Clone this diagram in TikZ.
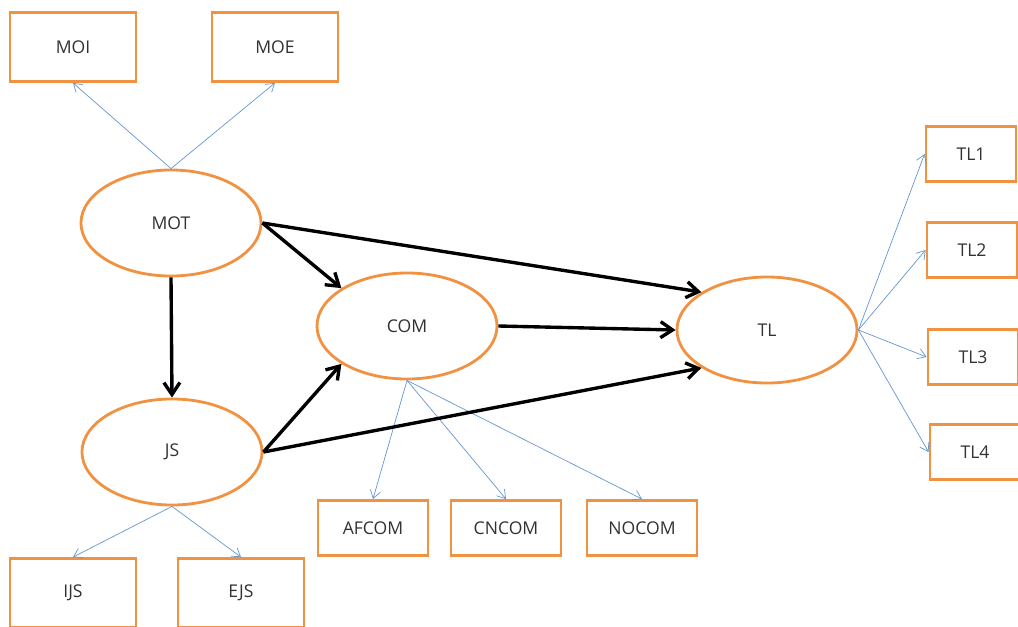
\documentclass[tikz,border=0pt]{standalone}
\usepackage{fontspec}
\setmainfont{Open Sans}
\usepackage{xcolor}
\usetikzlibrary{shapes.geometric,arrows.meta}
\definecolor{boxorange}{RGB}{241,146,66}
\definecolor{linkblue}{RGB}{100,150,210}
\definecolor{txtgray}{RGB}{50,50,50}

\begin{document}
\begin{tikzpicture}[x=0.025cm,y=-0.025cm,
    font=\fontsize{12.5}{14}\selectfont\color{txtgray},
    latent/.style={draw=boxorange,line width=2pt,ellipse,fill=white,minimum width=4.5cm,minimum height=2.65cm,inner sep=0pt},
    item/.style={draw=boxorange,line width=2pt,fill=white,minimum width=3.15cm,minimum height=1.725cm,inner sep=0pt},
    smallitem/.style={item,minimum width=2.75cm,minimum height=1.375cm},
    tlitem/.style={item,minimum width=2.25cm,minimum height=1.375cm},
    path/.style={-{Straight Barb[length=3mm,width=4mm]},line width=2.4pt,black},
    load/.style={-{Straight Barb[length=2mm,width=2.6mm]},line width=0.5pt,linkblue}]
    \clip (0,0) rectangle (1018,626);
    \node[latent] (mot) at (171,223) {MOT};
    \node[latent] (js) at (172,452) {JS};
    \node[latent] (com) at (407,326) {COM};
    \node[latent] (tl) at (767,330) {TL};
    \node[item] (moi) at (73,47) {MOI};
    \node[item] (moe) at (275,47) {MOE};
    \node[item] (ijs) at (73,593) {IJS};
    \node[item] (ejs) at (241,593) {EJS};
    \node[smallitem] (afcom) at (373,528) {AFCOM};
    \node[smallitem] (cncom) at (506,528) {CNCOM};
    \node[smallitem] (nocom) at (642,528) {NOCOM};
    \node[tlitem] (tl1) at (971,154) {TL1};
    \node[tlitem] (tl2) at (972,250) {TL2};
    \node[tlitem] (tl3) at (973,357) {TL3};
    \node[tlitem] (tl4) at (975,452) {TL4};
    % indicators
    \draw[load] (mot.north) -- (moi.south);
    \draw[load] (mot.north) -- (moe.south);
    \draw[load] (js.south) -- (ijs.north);
    \draw[load] (js.south) -- (ejs.north);
    \draw[load] (com.south) -- (afcom.north);
    \draw[load] (com.south) -- (cncom.north);
    \draw[load] (com.south) -- (nocom.north);
    \draw[load] (tl.east) -- (tl1.west);
    \draw[load] (tl.east) -- (tl2.west);
    \draw[load] (tl.east) -- (tl3.west);
    \draw[load] (tl.east) -- (tl4.west);
    % structural paths
    \draw[path] (mot.south) -- (js.north);
    \draw[path] (mot.east) -- (com.150);
    \draw[path] (mot.east) -- (tl.150);
    \draw[path] (js.east) -- (com.210);
    \draw[path] (js.east) -- (tl.210);
    \draw[path] (com.east) -- (tl.west);
\end{tikzpicture}
\end{document}
